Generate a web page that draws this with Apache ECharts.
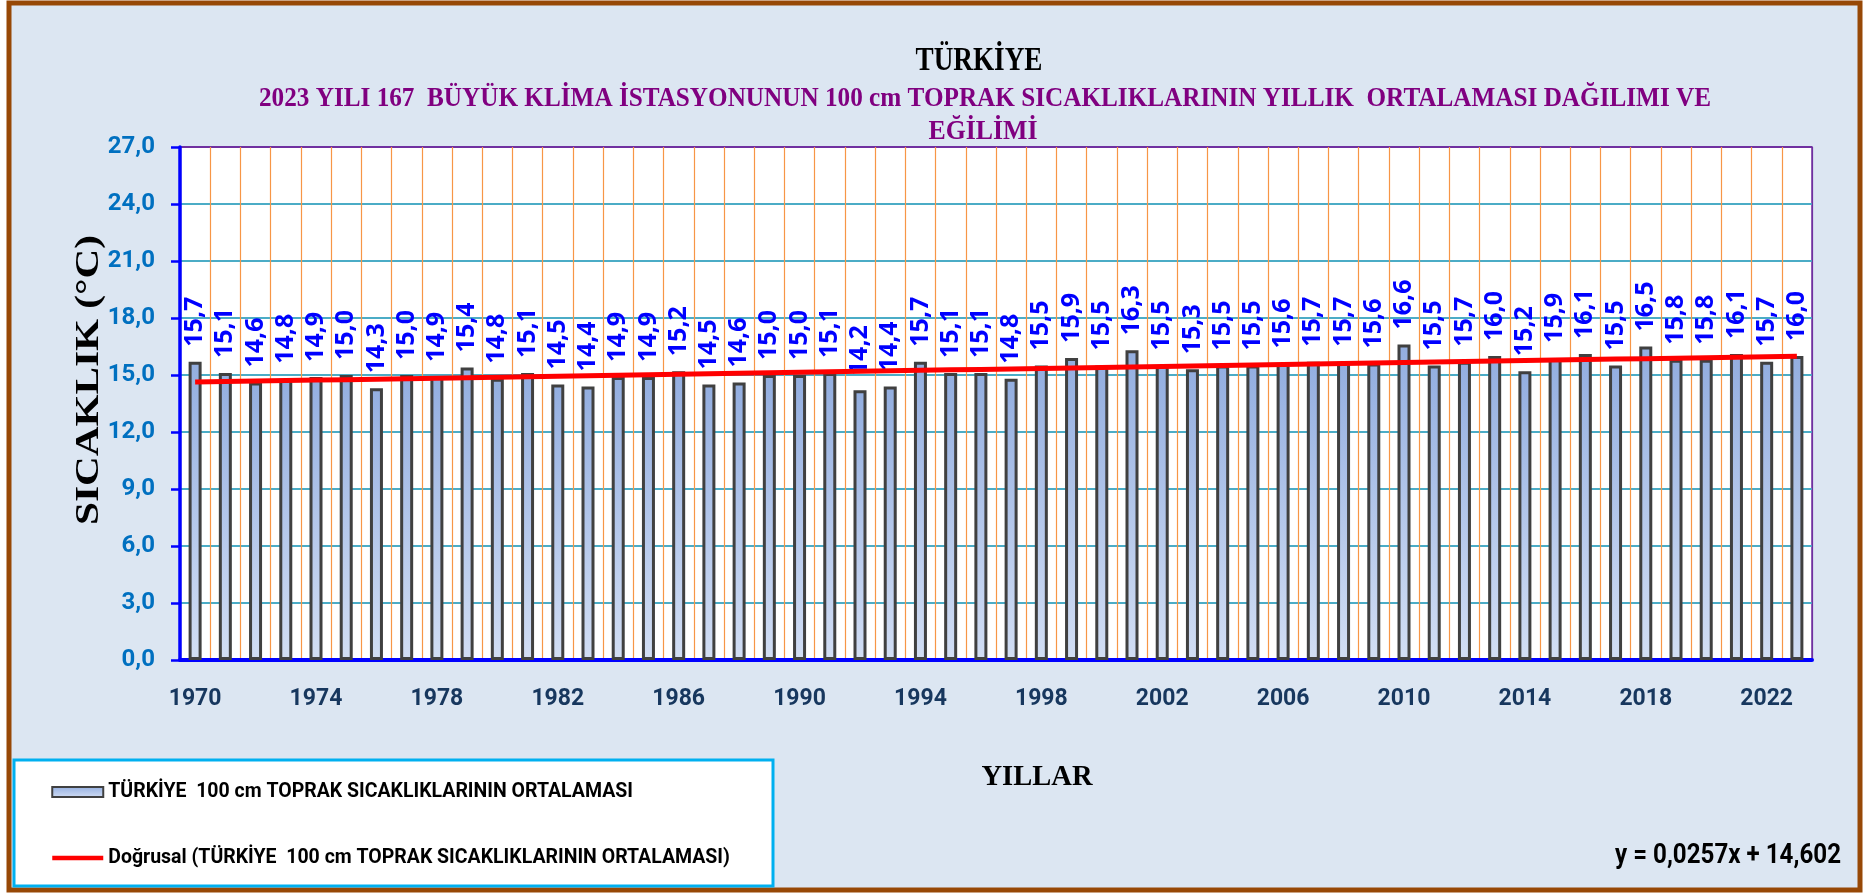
<!DOCTYPE html>
<html>
<head>
<meta charset="utf-8">
<title>Türkiye 100 cm toprak sıcaklıkları</title>
<script src="https://cdn.jsdelivr.net/npm/echarts@6/dist/echarts.min.js"></script>
<style>
	html, body { margin: 0; padding: 0; background: #ffffff; }
	#chart { width: 1865px; height: 895px; }
</style>
</head>
<body>
<div id="chart"></div>
<script>
// yıllar (kategori ekseni)
const YEARS = [
	'1970', '1971', '1972', '1973', '1974', '1975', '1976', '1977', '1978', '1979',
	'1980', '1981', '1982', '1983', '1984', '1985', '1986', '1987', '1988', '1989',
	'1990', '1991', '1992', '1993', '1994', '1995', '1996', '1997', '1998', '1999',
	'2000', '2001', '2002', '2003', '2004', '2005', '2006', '2007', '2008', '2009',
	'2010', '2011', '2012', '2013', '2014', '2015', '2016', '2017', '2018', '2019',
	'2020', '2021', '2022', '2023',
];

// 100 cm toprak sıcaklığı yıllık ortalamaları (°C)
const SOIL_TEMP = [
	15.7, 15.1, 14.6, 14.8, 14.9, 15.0, 14.3, 15.0, 14.9, 15.4,
	14.8, 15.1, 14.5, 14.4, 14.9, 14.9, 15.2, 14.5, 14.6, 15.0,
	15.0, 15.1, 14.2, 14.4, 15.7, 15.1, 15.1, 14.8, 15.5, 15.9,
	15.5, 16.3, 15.5, 15.3, 15.5, 15.5, 15.6, 15.7, 15.7, 15.6,
	16.6, 15.5, 15.7, 16.0, 15.2, 15.9, 16.1, 15.5, 16.5, 15.8,
	15.8, 16.1, 15.7, 16.0,
];

// doğrusal eğilim: y = 0,0257x + 14,602 (x = 1..54)
const TREND_SLOPE = 0.0257;
const TREND_INTERCEPT = 14.602;

// y ekseni
const Y_MIN = 0;
const Y_MAX = 27;
const Y_STEP = 3;

const TITLE = 'TÜRKİYE';
const SUBTITLE_1 = '2023 YILI 167  BÜYÜK KLİMA İSTASYONUNUN 100 cm TOPRAK SICAKLIKLARININ YILLIK  ORTALAMASI DAĞILIMI VE';
const SUBTITLE_2 = 'EĞİLİMİ';
const Y_NAME = 'SICAKLIK (°C)';
const X_NAME = 'YILLAR';
const BAR_NAME = 'TÜRKİYE  100 cm TOPRAK SICAKLIKLARININ ORTALAMASI';
const TREND_NAME = 'Doğrusal (TÜRKİYE  100 cm TOPRAK SICAKLIKLARININ ORTALAMASI)';
const EQUATION = 'y = 0,0257x + 14,602';

const trendData = YEARS.map((_, i) => +(TREND_SLOPE * (i + 1) + TREND_INTERCEPT).toFixed(4));

const comma = (v) => Number(v).toFixed(1).replace('.', ',');

// metin genişliği ölçümü (yoğun başlık yazılarını sığdırmak için)
const ctx = document.createElement('canvas').getContext('2d');
const measure = (text, font) => {
	ctx.font = font;
	return ctx.measureText(text).width;
};
const SERIF = '"Liberation Serif", "DejaVu Serif", serif';
const SANS = 'Roboto, "Noto Sans", sans-serif';

// sığdırılmış metin (yatayda sıkıştırılmış)
const fitText = (text, x, y, size, family, weight, color, targetWidth, rotation) => {
	const w = measure(text, `${weight} ${size}px ${family}`);
	return {
		type: 'text',
		x: x,
		y: y,
		rotation: rotation || 0,
		scaleX: targetWidth / w,
		z: 10,
		style: {
			text: text,
			fill: color,
			font: `${weight} ${size}px ${family}`,
			textAlign: 'center',
			textVerticalAlign: 'middle',
		},
	};
};

const legendFont = 100 * 525 / measure(BAR_NAME, `bold 100px ${SANS}`);

// kılavuz çizgileri: en üst / en sağ çizgi mor çerçeve rengi
const hSplitColors = [];
for (let v = Y_MIN; v <= Y_MAX; v += Y_STEP) hSplitColors.push(v === Y_MAX ? '#7030a0' : '#4bacc6');
const vSplitColors = [];
for (let i = 0; i <= YEARS.length; i++) vSplitColors.push(i === YEARS.length ? '#7030a0' : '#f79646');

const barGradient = new echarts.graphic.LinearGradient(0, 0, 0, 1, [
	{ offset: 0, color: '#93aee0' },
	{ offset: 1, color: '#d2def4' },
]);

const chart = echarts.init(document.getElementById('chart'), null, { renderer: 'canvas' });

const option = {
	backgroundColor: '#ffffff',
	animation: false,
	grid: {
		left: 180,
		right: 53,
		top: 147,
		bottom: 235,
		show: true,
		backgroundColor: '#ffffff',
		borderColor: '#7030a0',
		borderWidth: 1.5,
		containLabel: false,
	},
	legend: {
		orient: 'vertical',
		left: 45,
		top: 777,
		itemWidth: 51,
		itemHeight: 10,
		itemGap: 46,
		textStyle: {
			fontFamily: SANS,
			fontWeight: 'bold',
			fontSize: legendFont,
			lineHeight: 20,
			color: '#000000',
		},
		data: [
			{ name: BAR_NAME, icon: 'rect' },
			{
				name: TREND_NAME,
				itemStyle: { color: 'rgba(0,0,0,0)', borderColor: 'rgba(0,0,0,0)', borderWidth: 0 },
				lineStyle: { color: '#ff0000', width: 4.5 },
			},
		],
	},
	xAxis: {
		type: 'category',
		data: YEARS,
		boundaryGap: true,
		axisLine: { lineStyle: { color: '#0000ff', width: 4 } },
		axisTick: {
			interval: 0,
			length: 8,
			lineStyle: { color: '#0000ff', width: 2.5 },
		},
		axisLabel: {
			interval: 3,
			margin: 28,
			color: '#17375e',
			fontFamily: SANS,
			fontWeight: 'bold',
			fontSize: 23,
		},
		splitLine: {
			show: true,
			interval: 0,
			lineStyle: { color: vSplitColors, width: 1.2 },
		},
	},
	yAxis: {
		type: 'value',
		min: Y_MIN,
		max: Y_MAX,
		interval: Y_STEP,
		axisLine: { show: true, lineStyle: { color: '#0000ff', width: 3.5 } },
		axisTick: {
			show: true,
			length: 9,
			lineStyle: { color: '#0000ff', width: 2.5 },
		},
		axisLabel: {
			margin: 25,
			color: '#0070c0',
			fontFamily: SANS,
			fontWeight: 'bold',
			fontSize: 24,
			formatter: comma,
		},
		splitLine: {
			show: true,
			lineStyle: { color: hSplitColors, width: 1.8 },
		},
	},
	series: [
		{
			name: BAR_NAME,
			type: 'bar',
			data: SOIL_TEMP,
			barWidth: 13,
			itemStyle: {
				color: barGradient,
				borderColor: '#404040',
				borderWidth: 3,
			},
			label: {
				show: true,
				position: 'top',
				rotate: 90,
				align: 'left',
				verticalAlign: 'middle',
				distance: 15,
				color: '#0000ff',
				fontFamily: '"Noto Sans", Roboto, sans-serif',
				fontWeight: 'bold',
				fontSize: 25,
				formatter: (p) => comma(p.value),
			},
			z: 2,
		},
		{
			name: TREND_NAME,
			type: 'line',
			data: trendData,
			symbol: 'none',
			lineStyle: { color: '#ff0000', width: 5 },
			itemStyle: { color: '#ff0000' },
			z: 5,
		},
	],
	graphic: {
		elements: [
			// dış çerçeve
			{
				type: 'rect',
				z: -100,
				shape: { x: 9, y: 3, width: 1851, height: 887 },
				style: { fill: '#dce6f2', stroke: '#974806', lineWidth: 5 },
			},
			// gösterge kutusu
			{
				type: 'rect',
				z: -50,
				shape: { x: 14, y: 760, width: 759, height: 126 },
				style: { fill: '#ffffff', stroke: '#00b0f0', lineWidth: 3 },
			},
			fitText(TITLE, 979, 61, 34, SERIF, 'bold', '#000000', 127),
			fitText(SUBTITLE_1, 985, 99, 28, SERIF, 'bold', '#800080', 1452),
			fitText(SUBTITLE_2, 983, 132, 28, SERIF, 'bold', '#800080', 109),
			fitText(Y_NAME, 89, 380, 34, SERIF, 'bold', '#000000', 290, Math.PI / 2),
			fitText(X_NAME, 1037, 777, 30, SERIF, 'bold', '#000000', 111),
			fitText(EQUATION, 1728, 856, 27, SANS, 'bold', '#000000', 226),
		],
	},
};

chart.setOption(option);
</script>
</body>
</html>
